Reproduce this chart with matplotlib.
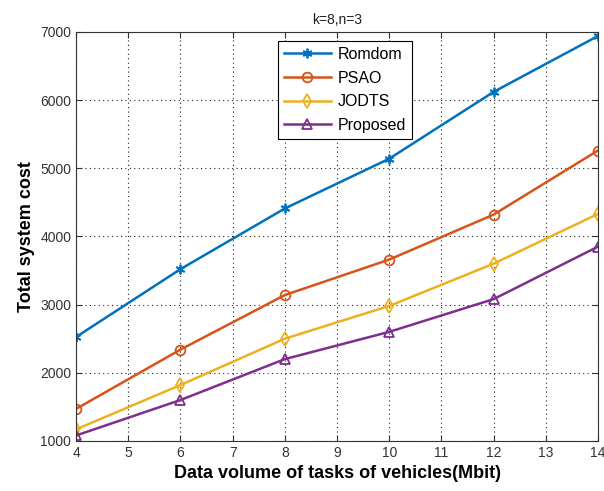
import matplotlib
matplotlib.use('Agg')
import matplotlib.pyplot as plt

plt.rcParams['font.family'] = ['Liberation Sans', 'DejaVu Sans']

x = [4, 6, 8, 10, 12, 14]
romdom = [2525, 3520, 4410, 5140, 6120, 6940]
psao = [1470, 2340, 3140, 3660, 4320, 5260]
jodts = [1170, 1820, 2500, 2980, 3600, 4330]
proposed = [1080, 1600, 2200, 2600, 3080, 3850]

names = ['Romdom', 'PSAO', 'JODTS', 'Proposed']
colors = ['#0072BD', '#D95319', '#EDB120', '#7E2F8E']
# asterisk, circle, diamond, triangle like the MATLAB markers
markers = [(6, 2, 0), 'o', 'd', '^']

fig = plt.figure(figsize=(6.04, 4.91), dpi=100)
ax = fig.add_axes([0.126, 0.102, 0.864, 0.833])

for ys, name, c, m in zip([romdom, psao, jodts, proposed], names, colors, markers):
    ax.plot(x, ys, color=c, marker=m, markersize=7, markerfacecolor='none',
            markeredgecolor=c, markeredgewidth=1.3, linewidth=1.8, label=name)

ax.set_xlim(4, 14)
ax.set_ylim(1000, 7000)
ax.set_xticks(range(4, 15))
ax.set_yticks(range(1000, 7001, 1000))
ax.tick_params(direction='in', labelsize=10, top=True, right=True, length=4,
               colors='#333333')
ax.grid(True, linestyle=(0, (1, 3)), color='#222222', linewidth=0.8)
for s in ax.spines.values():
    s.set_color('#333333')

ax.set_title('k=8,n=3', fontsize=10, color='#222222')
ax.set_xlabel('Data volume of tasks of vehicles(Mbit)', fontsize=13, fontweight='bold')
ax.set_ylabel('Total system cost', fontsize=13, fontweight='bold')

leg = ax.legend(loc='upper center', bbox_to_anchor=(0.515, 0.997), fancybox=False,
                edgecolor='black', fontsize=11.5, handlelength=3, borderpad=0.35,
                labelspacing=0.55, handletextpad=0.4, framealpha=1)
leg.get_frame().set_linewidth(0.8)

fig.savefig('out.png', dpi=100)
